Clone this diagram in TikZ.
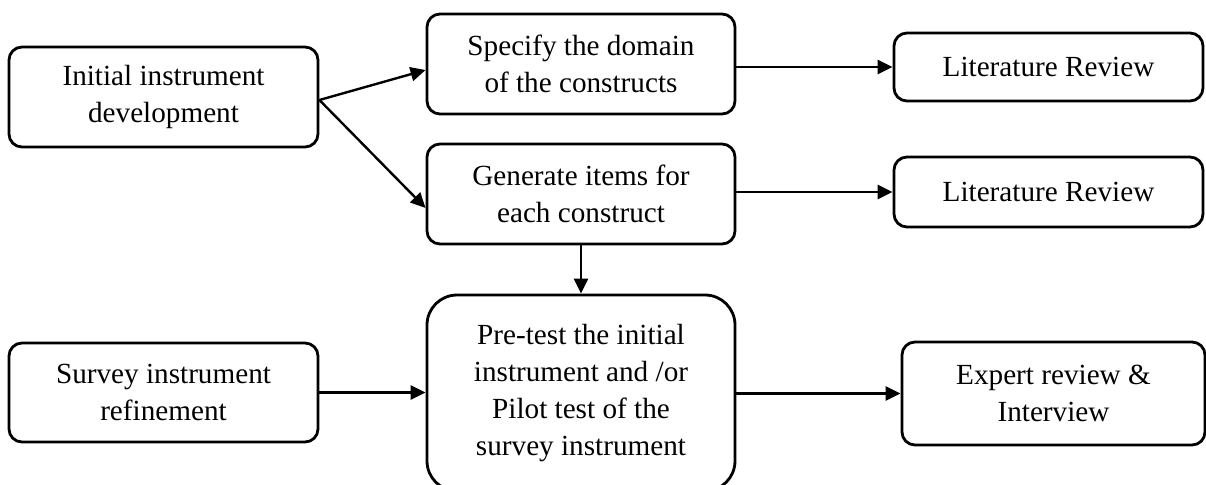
\documentclass[tikz,border=0pt]{standalone}
\usepackage{fontspec}
\setmainfont{Liberation Serif}
\usetikzlibrary{arrows.meta}

\begin{document}
\begin{tikzpicture}[
    x=0.5pt, y=-0.5pt,
    box/.style={draw, line width=1.4pt, rounded corners=6.5pt, inner sep=0pt,
      align=center, font=\fontsize{14.6}{18.5}\selectfont},
    flow/.style={line width=1.2pt, -{Triangle[length=7.5pt,width=7pt]}}
  ]
  \useasboundingbox (0,0) rectangle (1206,484);

  % left column
  \node[box, minimum width=154.5pt, minimum height=50pt] (init) at (163.5,97)
    {Initial instrument\\development};
  \node[box, minimum width=154.5pt, minimum height=49.5pt] (survey) at (163.5,392.5)
    {Survey instrument\\refinement};

  % middle column
  \node[box, minimum width=154pt, minimum height=50pt] (spec) at (581,64)
    {Specify the domain\\of the constructs};
  \node[box, minimum width=154pt, minimum height=50pt] (gen) at (581,194)
    {Generate items for\\each construct};
  \node[box, rounded corners=15pt, minimum width=154pt, minimum height=98pt] (pre) at (581,393)
    {Pre-test the initial\\instrument and /or\\Pilot test of the\\survey instrument};

  % right column
  \node[box, minimum width=154.5pt, minimum height=34pt] (lit1) at (1048.5,67)
    {Literature Review};
  \node[box, minimum width=154.5pt, minimum height=35pt] (lit2) at (1048.5,192)
    {Literature Review};
  \node[box, minimum width=151.5pt, minimum height=51.5pt] (expert) at (1053.5,393.5)
    {Expert review \&\\Interview};

  % connectors
  \coordinate (split) at ([yshift=-1.5pt]init.east);
  \draw[flow] (split) -- ([yshift=-3pt]spec.west);
  \draw[flow] (split) -- ([yshift=-7pt]gen.west);
  \draw[flow] (spec.east |- lit1.west) -- (lit1.west);
  \draw[flow] (gen.east |- lit2.west) -- (lit2.west);
  \draw[flow] (gen.south) -- (pre.north);
  \draw[flow] (survey.east) -- (survey.east -| pre.west);
  \draw[flow] (pre.east |- expert.west) -- (expert.west);
\end{tikzpicture}
\end{document}
